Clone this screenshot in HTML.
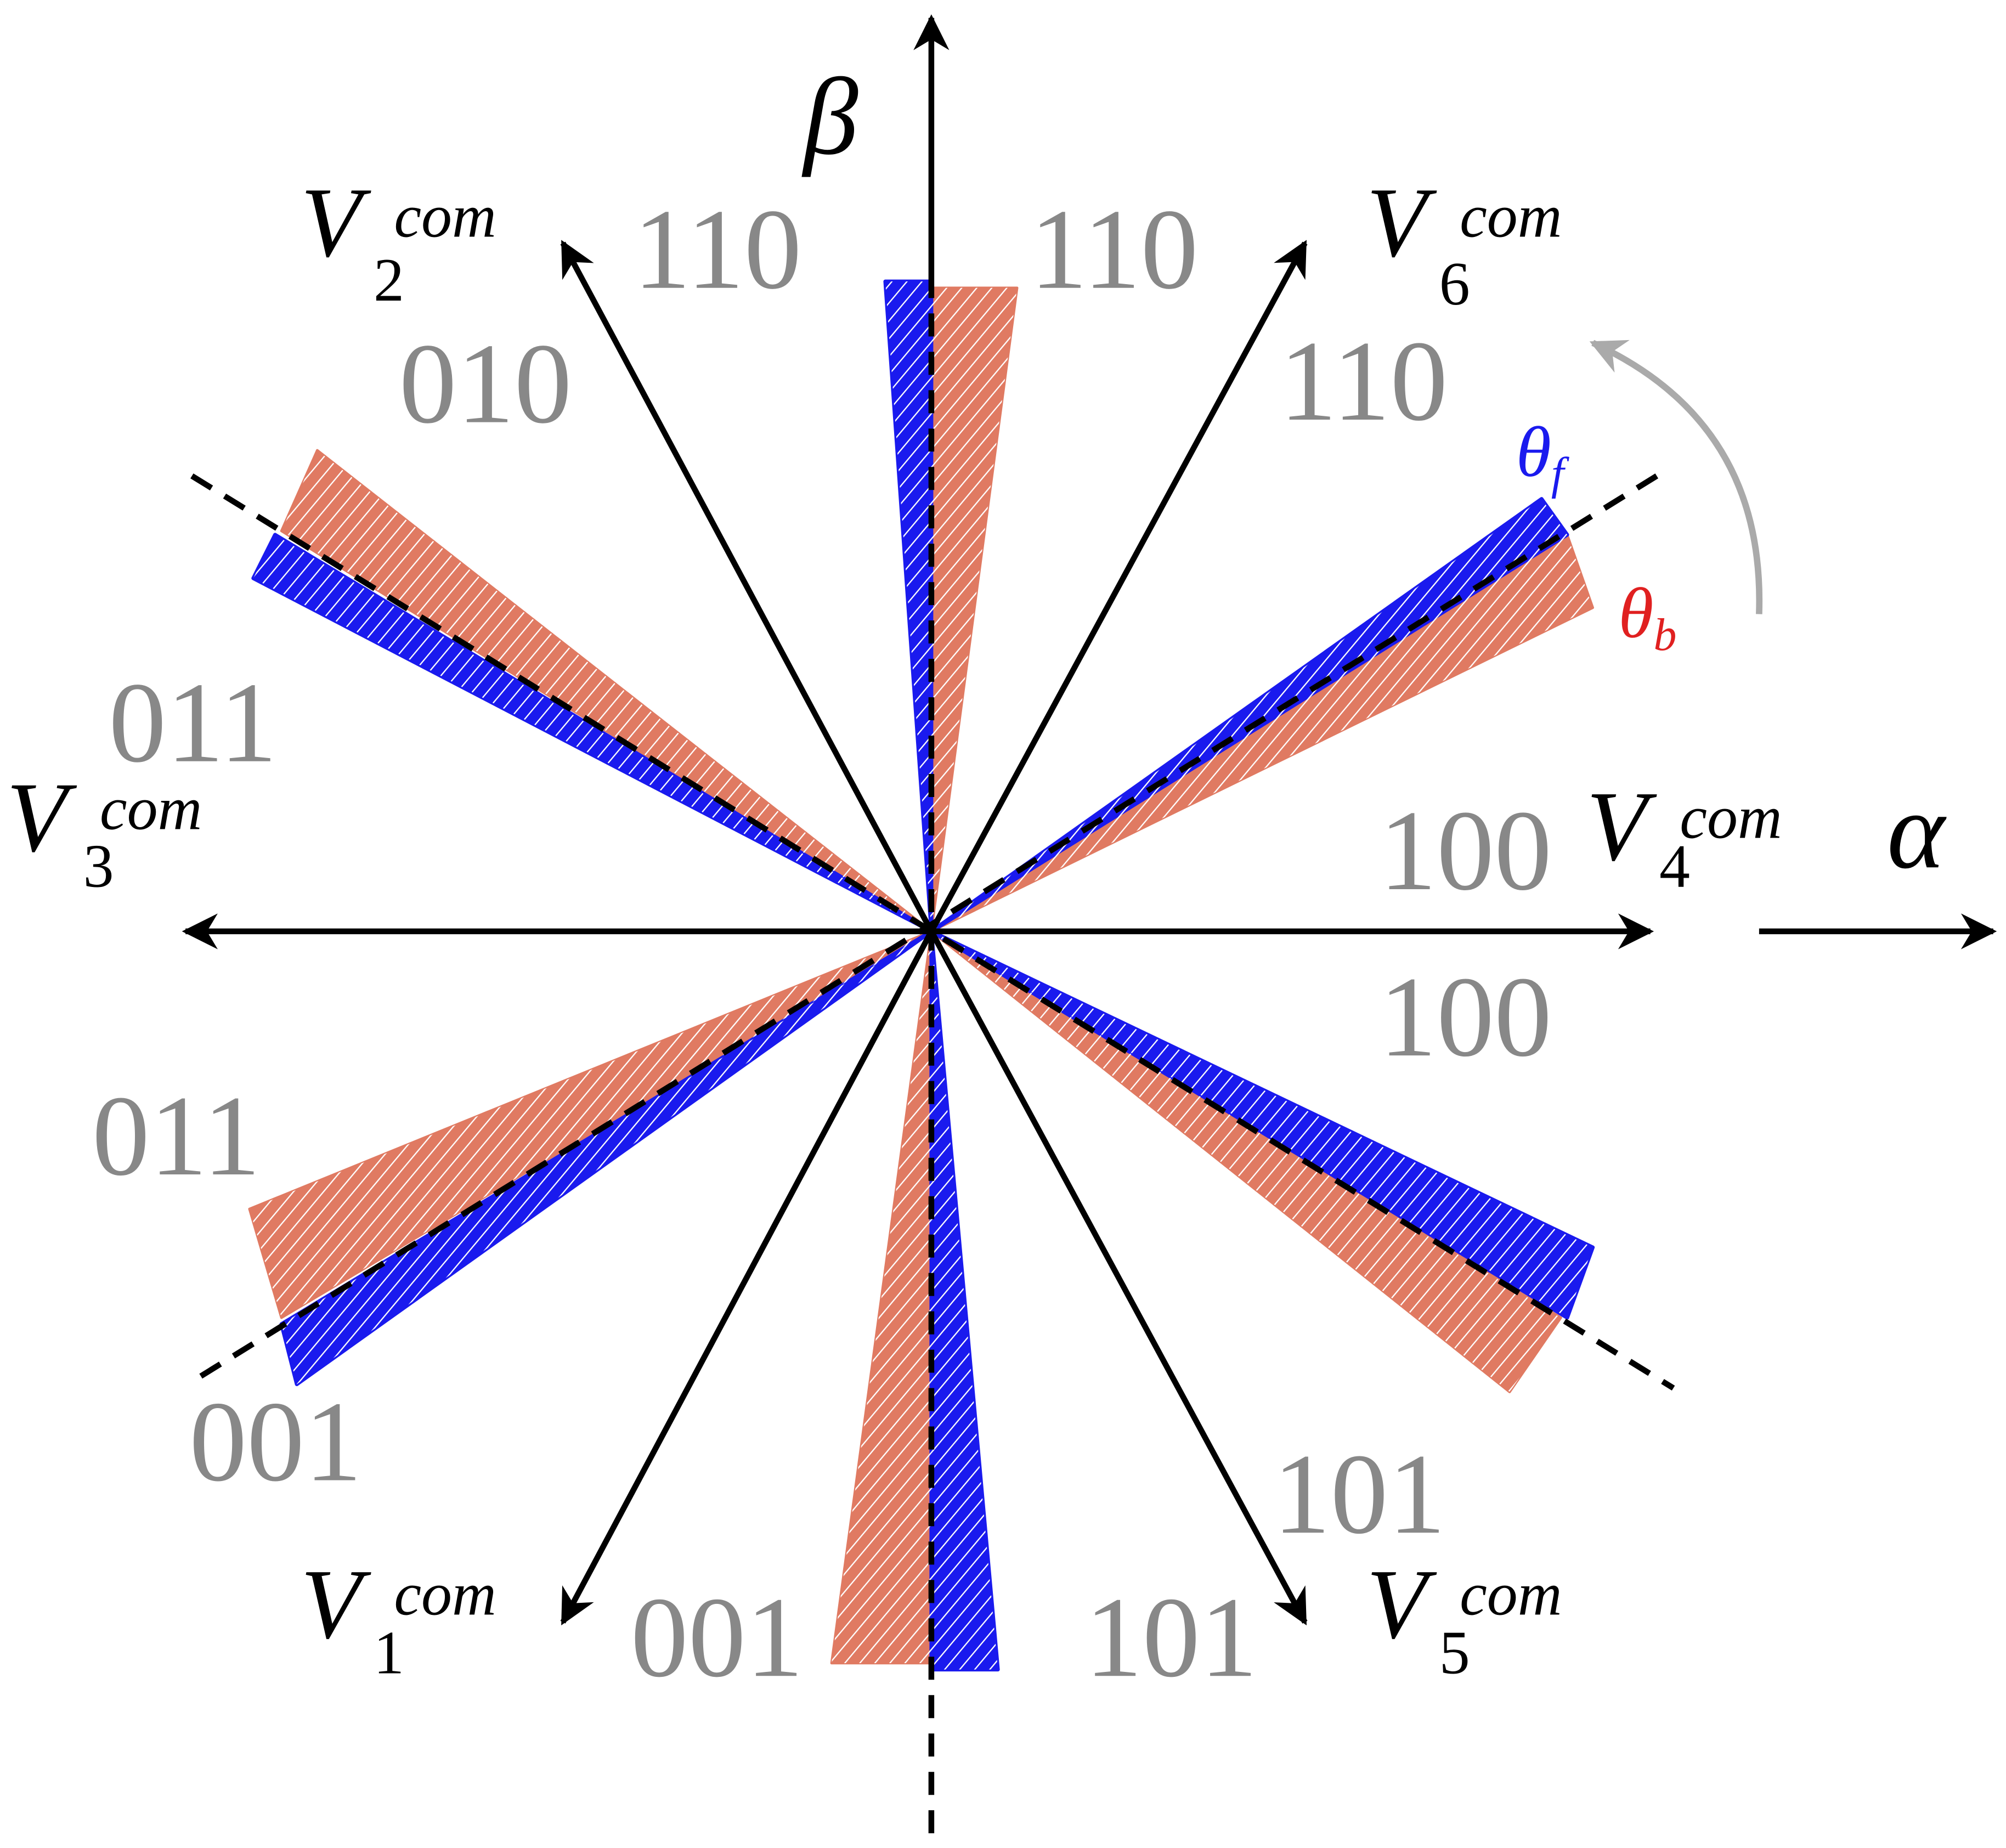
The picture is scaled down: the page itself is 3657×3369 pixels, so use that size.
<!DOCTYPE html>
<html><head><meta charset="utf-8"><style>html,body{margin:0;padding:0;background:#fff}svg{display:block}</style></head><body>
<svg xmlns="http://www.w3.org/2000/svg" width="3657" height="3369" viewBox="0 0 1568 1444.5">
<defs>
<pattern id="h" patternUnits="userSpaceOnUse" width="9" height="9" patternTransform="rotate(40)">
<line x1="0" y1="0" x2="0" y2="9" stroke="#fff" stroke-width="2"/>
</pattern>
<marker id="arb" viewBox="0 0 10 10" refX="9" refY="5" markerWidth="28" markerHeight="28" orient="auto" markerUnits="userSpaceOnUse">
<path d="M0,0 L10,5 L0,10 L3,5 z" fill="#000"/></marker>
<marker id="arg" viewBox="0 0 10 10" refX="9" refY="5" markerWidth="28" markerHeight="28" orient="auto" markerUnits="userSpaceOnUse">
<path d="M0,0 L10,5 L0,10 L3,5 z" fill="#aaa"/></marker>
</defs>
<g stroke-linejoin="round">
<g fill="#e07a62" stroke="#e07a62" stroke-width="2">
<polygon points="728,728 1225,418 1245,475"/>
<polygon points="728,728 248,352 220,415"/>
<polygon points="728,728 728,225 795,225"/>
<polygon points="728,728 650,1300 728,1300"/>
<polygon points="728,728 195,945 220,1030"/>
<polygon points="728,728 1220,1030 1180,1088"/>
</g>
<g fill="#1a1aee" stroke="#1a1aee" stroke-width="3">
<polygon points="728,728 1205,390 1225,418"/>
<polygon points="728,728 215,418 198,452"/>
<polygon points="728,728 692,220 728,220"/>
<polygon points="728,728 728,1305 780,1305"/>
<polygon points="728,728 220,1035 232,1082"/>
<polygon points="728,728 1245,975 1225,1030"/>
</g>
<g fill="url(#h)">
<polygon points="728,728 1225,418 1245,475"/>
<polygon points="728,728 248,352 220,415"/>
<polygon points="728,728 728,225 795,225"/>
<polygon points="728,728 650,1300 728,1300"/>
<polygon points="728,728 195,945 220,1030"/>
<polygon points="728,728 1220,1030 1180,1088"/>
<polygon points="728,728 1205,390 1225,418"/>
<polygon points="728,728 215,418 198,452"/>
<polygon points="728,728 692,220 728,220"/>
<polygon points="728,728 728,1305 780,1305"/>
<polygon points="728,728 220,1035 232,1082"/>
<polygon points="728,728 1245,975 1225,1030"/>
</g>
</g>
<g stroke="#000" stroke-width="4.5" stroke-dasharray="18,12" fill="none">
<line x1="150" y1="372" x2="1308" y2="1085"/>
<line x1="1295" y1="372" x2="150" y2="1080"/>
<line x1="728" y1="215" x2="728" y2="1440"/>
</g>
<g stroke="#000" stroke-width="4.5" fill="none">
<line x1="728" y1="215" x2="728" y2="14" marker-end="url(#arb)"/>
<line x1="728" y1="728" x2="145" y2="728" marker-end="url(#arb)"/>
<line x1="728" y1="728" x2="1290" y2="728" marker-end="url(#arb)"/>
<line x1="1375" y1="728" x2="1558" y2="728" marker-end="url(#arb)"/>
<line x1="728" y1="728" x2="440" y2="190" marker-end="url(#arb)"/>
<line x1="728" y1="728" x2="1020" y2="190" marker-end="url(#arb)"/>
<line x1="728" y1="728" x2="440" y2="1268" marker-end="url(#arb)"/>
<line x1="728" y1="728" x2="1020" y2="1268" marker-end="url(#arb)"/>
</g>
<path d="M1375,480 Q1380,330 1245,268" stroke="#aaa" stroke-width="5" fill="none" marker-end="url(#arg)"/>
<g font-family="Liberation Serif, serif" font-size="90" fill="#888">
<text x="495" y="225">110</text><text x="805" y="225">110</text>
<text x="1000" y="328">110</text><text x="312" y="330">010</text>
<text x="85" y="595">011</text><text x="1078" y="695">100</text>
<text x="1078" y="825">100</text><text x="72" y="918">011</text>
<text x="148" y="1157">001</text><text x="493" y="1310">001</text>
<text x="848" y="1310">101</text><text x="995" y="1198">101</text>
</g>
<g font-family="Liberation Serif, serif" fill="#000" font-style="italic">
<text x="235" y="200" font-size="78">V</text><text x="308" y="185" font-size="48">com</text><text x="292" y="235" font-size="48" font-style="normal">2</text>
<text x="1068" y="200" font-size="78">V</text><text x="1141" y="185" font-size="48">com</text><text x="1125" y="238" font-size="48" font-style="normal">6</text>
<text x="5" y="665" font-size="78">V</text><text x="78" y="648" font-size="48">com</text><text x="65" y="693" font-size="48" font-style="normal">3</text>
<text x="1240" y="672" font-size="78">V</text><text x="1313" y="655" font-size="48">com</text><text x="1297" y="693" font-size="48" font-style="normal">4</text>
<text x="235" y="1280" font-size="78">V</text><text x="308" y="1262" font-size="48">com</text><text x="292" y="1308" font-size="48" font-style="normal">1</text>
<text x="1068" y="1280" font-size="78">V</text><text x="1141" y="1262" font-size="48">com</text><text x="1125" y="1308" font-size="48" font-style="normal">5</text>
<text x="628" y="120" font-size="86">β</text>
<text x="1475" y="678" font-size="86">α</text>
<text x="1185" y="372" font-size="56" fill="#1a1aee">θ<tspan font-size="36" dy="10">f</tspan></text>
<text x="1265" y="498" font-size="56" fill="#e02020">θ<tspan font-size="36" dy="10">b</tspan></text>
</g>
</svg>
</body></html>
